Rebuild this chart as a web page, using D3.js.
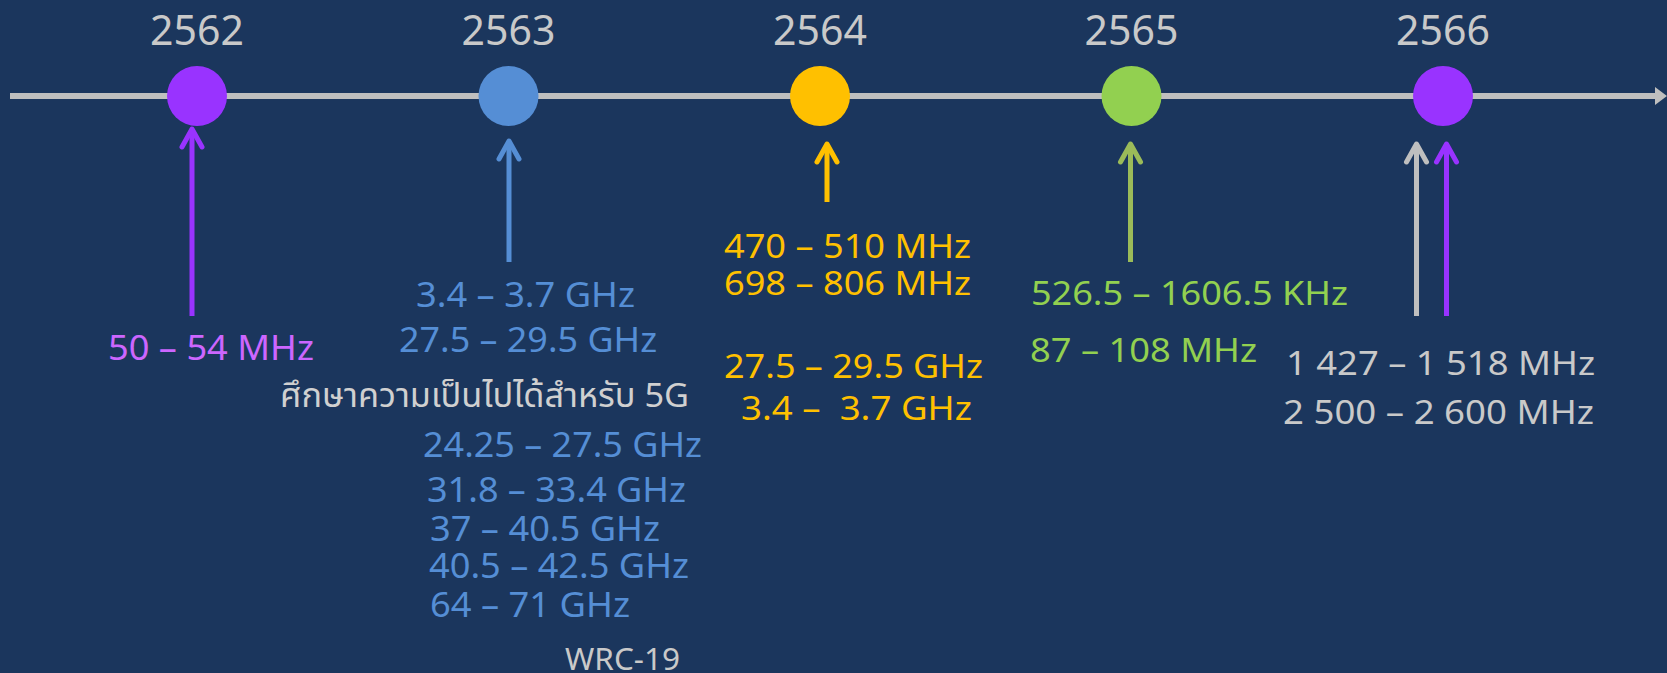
<!DOCTYPE html>
<html>
<head>
<meta charset="utf-8">
<script src="https://cdn.jsdelivr.net/npm/d3@7"></script>
<style>
	body { margin: 0; background: #1b365d; }
	svg { display: block; }
	text { white-space: pre; font-family: "Noto Sans", "Noto Sans Thai", "Open Sans", sans-serif; }
</style>
</head>
<body>
<svg id="chart"></svg>
<script>

	// timeline data

	var years = [2562, 2563, 2564, 2565, 2566];

	var bands2562 = ["50 – 54 MHz"];
	var bands2563 = ["3.4 – 3.7 GHz", "27.5 – 29.5 GHz"];
	var studyTitle = "ศึกษาความเป็นไปได้สำหรับ 5G";
	var study5G = ["24.25 – 27.5 GHz", "31.8 – 33.4 GHz", "37 – 40.5 GHz", "40.5 – 42.5 GHz", "64 – 71 GHz"];
	var studySource = "WRC-19";
	var bands2564 = ["470 – 510 MHz", "698 – 806 MHz", "27.5 – 29.5 GHz", "3.4 –  3.7 GHz"];
	var bands2565 = ["526.5 – 1606.5 KHz", "87 – 108 MHz"];
	var bands2566 = ["1 427 – 1 518 MHz", "2 500 – 2 600 MHz"];

	// arrows pointing at a year (2566 has two)
	var arrowYears = [2562, 2563, 2564, 2565, 2566, 2566];

	var width = 1667,
		height = 673;

	var svg = d3.select("#chart")
		.attr("width", width)
		.attr("height", height);

	svg.append("rect")
		.attr("width", width)
		.attr("height", height)
		.style("fill", "#1b365d");

	var x = d3.scaleLinear()
		.domain([2562, 2566])
		.range([197, 1443]);

	var axisY = 96;

	var dotColor = d3.scaleOrdinal()
		.domain(years)
		.range(["#9933ff", "#558ed5", "#ffc000", "#92d050", "#9933ff"]);

	// axis line with arrow head
	svg.append("line")
		.attr("x1", 10)
		.attr("x2", 1657)
		.attr("y1", axisY)
		.attr("y2", axisY)
		.style("stroke", "#bfbfbf")
		.style("stroke-width", 6);

	svg.append("path")
		.attr("d", "M1655," + (axisY - 9) + "L1667," + axisY + "L1655," + (axisY + 9) + "Z")
		.style("fill", "#bfbfbf");

	// year labels
	svg.selectAll("text.year")
		.data(years)
		.enter().append("text")
		.attr("class", "year")
		.attr("x", function(d) { return x(d); })
		.attr("y", 45)
		.attr("text-anchor", "middle")
		.style("font-size", "41px")
		.style("fill", "#c9c9c9")
		.text(function(d) { return d; });

	// milestone dots
	svg.selectAll("circle.dot")
		.data(years)
		.enter().append("circle")
		.attr("class", "dot")
		.attr("cx", function(d) { return x(d); })
		.attr("cy", axisY)
		.attr("r", 30)
		.style("fill", function(d) { return dotColor(d); });

	// arrows: offset from the dot, tip and foot, colour
	var arrowLayout = [
		{ dx: -5, y0: 127, y1: 316, color: "#9933ff" },
		{ dx: 0.5, y0: 139, y1: 262, color: "#558ed5" },
		{ dx: 7, y0: 142, y1: 202, color: "#ffc000" },
		{ dx: -1, y0: 142, y1: 262, color: "#9bbb59" },
		{ dx: -26.5, y0: 142, y1: 316, color: "#bfbfbf" },
		{ dx: 3.5, y0: 142, y1: 316, color: "#9933ff" }
	];

	var arrows = svg.selectAll("g.arrow")
		.data(arrowYears)
		.enter().append("g")
		.attr("class", "arrow")
		.each(function(year, i) {
			var a = arrowLayout[i],
				ax = x(year) + a.dx,
				g = d3.select(this);

			g.append("line")
				.attr("x1", ax).attr("x2", ax)
				.attr("y1", a.y0 + 2).attr("y2", a.y1)
				.style("stroke", a.color)
				.style("stroke-width", 5);

			g.append("path")
				.attr("d", "M" + (ax - 10) + "," + (a.y0 + 20) + "L" + ax + "," + (a.y0 + 2) + "L" + (ax + 10) + "," + (a.y0 + 20))
				.style("fill", "none")
				.style("stroke", a.color)
				.style("stroke-width", 5)
				.style("stroke-linecap", "round")
				.style("stroke-linejoin", "round");
		});

	// text blocks: lines, anchor year, x offset per line, baselines, widths
	function block(lines, year, dxs, ys, widths, size, color) {
		svg.append("g")
			.selectAll("text")
			.data(lines)
			.enter().append("text")
			.attr("x", function(d, i) { return x(year) + dxs[i]; })
			.attr("y", function(d, i) { return ys[i]; })
			.attr("textLength", function(d, i) { return widths[i]; })
			.attr("lengthAdjust", "spacingAndGlyphs")
			.style("font-size", size + "px")
			.style("fill", color)
			.text(function(d) { return d; });
	}

	block(bands2562, 2562, [-89], [360], [206], 35, "#cc66ff");
	block(bands2563, 2563, [-92.5, -109.5], [307, 352], [219, 258], 34, "#558ed5");
	block([studyTitle], 2563, [-228.5], [407], [409], 33, "#d0d0d0");
	block(study5G, 2563, [-85.5, -81.5, -78.5, -79.5, -78.5], [457, 502, 541, 578, 617], [279, 259, 230, 260, 200], 34, "#558ed5");
	block([studySource], 2563, [56.5], [670], [115], 30, "#c9c9c9");
	block(bands2564, 2564, [-96, -96, -96, -79], [258, 295, 378, 420], [247, 247, 259, 231], 33, "#ffc000");
	block(bands2565, 2565, [-100.5, -101.5], [305, 362], [317, 227], 33, "#92d050");
	block(bands2566, 2566, [-157, -160], [375, 424], [309, 311], 33, "#c9c9c9");

</script>
</body>
</html>
